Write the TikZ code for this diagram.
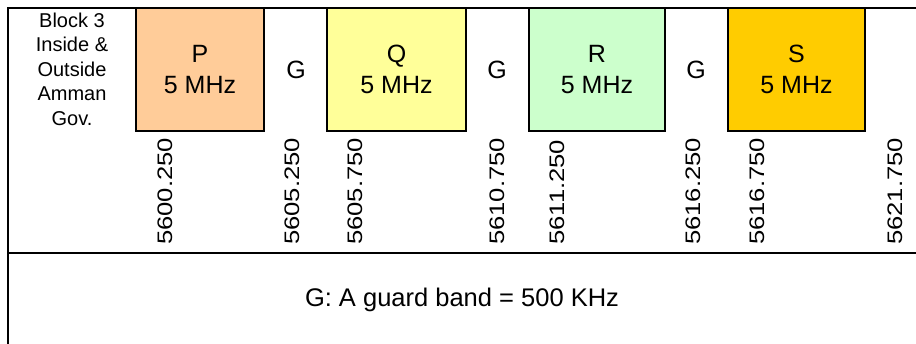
\documentclass[tikz,border=0pt]{standalone}
\usepackage{fontspec}
\setmainfont{Liberation Sans}
\definecolor{pcol}{HTML}{FFCC99}
\definecolor{qcol}{HTML}{FFFF99}
\definecolor{rcol}{HTML}{CCFFCC}
\definecolor{scol}{HTML}{FFCC00}
\tikzset{
  frameline/.style={line width=2.6pt},
  band/.style={draw, line width=2pt, minimum width=#1, minimum height=123pt, inner sep=0pt, align=center,
    font=\fontsize{25}{31}\selectfont},
  guard/.style={inner sep=0pt, font=\fontsize{25}{30}\selectfont},
  freq/.style={rotate=90, anchor=west, inner sep=0pt, font=\fontsize{21}{24}\selectfont},
  side/.style={inner sep=0pt, align=center, font=\fontsize{20}{24.5}\selectfont},
  note/.style={inner sep=0pt, font=\fontsize{25.5}{30}\selectfont}
}
\newcommand{\fq}[1]{\scalebox{1.22}[1]{#1}}
\begin{document}
\begin{tikzpicture}[x=1pt,y=-1pt]
\useasboundingbox (0,0) rectangle (916,344);
\coordinate (tl) at (8,8);
\coordinate (tr) at (916,8);
\coordinate (bl) at (8,344);
\coordinate (ml) at (8,253);
\coordinate (mr) at (916,253);
\draw[frameline] (tr) -- (tl) -- (bl);
\draw[frameline] (ml) -- (mr);

\node[side] (blk) at (72,69) {Block 3\\Inside \&\\Outside\\Amman\\Gov.};

\node[band=128pt, fill=pcol] (P) at (200,69.5) {P\\5 MHz};
\node[band=139pt, fill=qcol] (Q) at (396.5,69.5) {Q\\5 MHz};
\node[band=136pt, fill=rcol] (R) at (597,69.5) {R\\5 MHz};
\node[band=137pt, fill=scol] (S) at (796.5,69.5) {S\\5 MHz};

\node[guard] (g1) at (296,70) {G};
\node[guard] (g2) at (497,70) {G};
\node[guard] (g3) at (696,70) {G};

\node[freq] (f1) at (165,245) {\fq{5600.250}};
\node[freq] (f2) at (292,245) {\fq{5605.250}};
\node[freq] (f3) at (355,245) {\fq{5605.750}};
\node[freq] (f4) at (497,245) {\fq{5610.750}};
\node[freq] (f5) at (557,245) {\fq{5611.250}};
\node[freq] (f6) at (693,245) {\fq{5616.250}};
\node[freq] (f7) at (757,245) {\fq{5616.750}};
\node[freq] (f8) at (895,245) {\fq{5621.750}};

\node[note] (gn) at (462,300) {G: A guard band = 500 KHz};
\end{tikzpicture}
\end{document}
